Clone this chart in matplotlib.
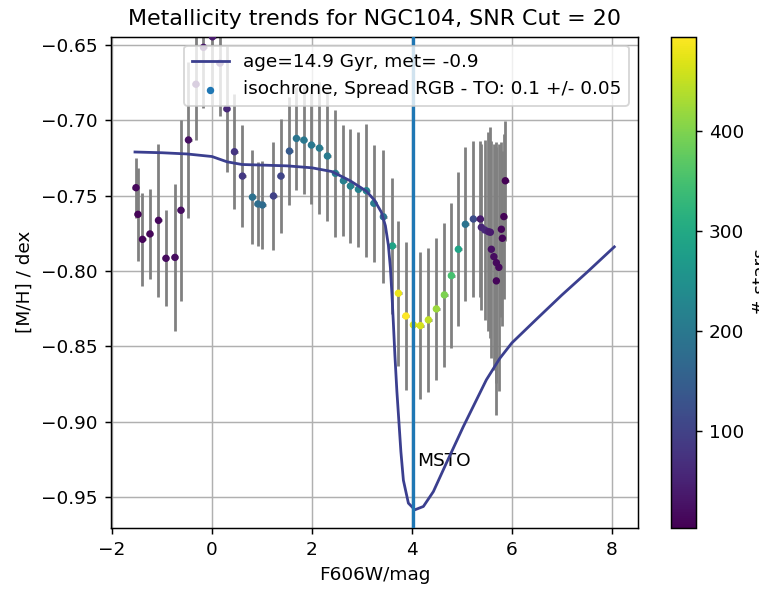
import matplotlib
matplotlib.use("Agg")
import matplotlib.pyplot as plt

# Binned metallicity along the CMD (magnitude bins)
mag = [-1.52, -1.48, -1.39, -1.24, -1.07, -0.92, -0.74, -0.62, -0.47, -0.32,
       -0.17, 0.01, 0.16, 0.30, 0.45, 0.61, 0.81, 0.92, 1.01, 1.23,
       1.38, 1.55, 1.69, 1.84, 1.99, 2.15, 2.31, 2.47, 2.63, 2.77,
       2.93, 3.09, 3.24, 3.43, 3.61, 3.73, 3.88, 4.03, 4.17, 4.33,
       4.49, 4.65, 4.79, 4.93, 5.07, 5.23,
       5.37, 5.39, 5.46, 5.53, 5.57, 5.59, 5.64, 5.69, 5.74, 5.69,
       5.79, 5.81, 5.84, 5.87]
feh = [-0.7447, -0.7624, -0.7790, -0.7754, -0.7664, -0.7916, -0.7910, -0.7597, -0.7130, -0.6760,
       -0.6515, -0.6445, -0.6620, -0.6923, -0.7208, -0.7370, -0.7510, -0.7555, -0.7562, -0.7502,
       -0.7370, -0.7204, -0.7120, -0.7131, -0.7164, -0.7184, -0.7237, -0.7352, -0.7401, -0.7436,
       -0.7458, -0.7467, -0.7551, -0.7640, -0.7834, -0.8148, -0.8299, -0.8358, -0.8363, -0.8325,
       -0.8252, -0.8159, -0.8031, -0.7856, -0.7690, -0.7655,
       -0.7655, -0.7710, -0.7728, -0.7739, -0.7743, -0.7856, -0.7905, -0.7945, -0.7976, -0.8066,
       -0.7723, -0.7783, -0.7639, -0.7401]
feh_err = [0.020, 0.031, 0.031, 0.030, 0.051, 0.032, 0.049, 0.060, 0.052, 0.037,
           0.040, 0.045, 0.035, 0.042, 0.038, 0.034, 0.031, 0.028, 0.029, 0.036,
           0.038, 0.036, 0.034, 0.036, 0.039, 0.044, 0.043, 0.042, 0.037, 0.038,
           0.038, 0.044, 0.039, 0.044, 0.045, 0.048, 0.049, 0.050, 0.049, 0.048,
           0.047, 0.048, 0.048, 0.051, 0.051, 0.052,
           0.052, 0.055, 0.060, 0.066, 0.070, 0.072, 0.075, 0.080, 0.082, 0.089,
           0.058, 0.058, 0.055, 0.040]
n_stars = [15, 8, 10, 12, 15, 18, 20, 22, 25, 30,
           35, 40, 45, 60, 80, 85, 185, 180, 175, 100,
           105, 140, 195, 200, 200, 205, 205, 210, 215, 220,
           220, 225, 205, 190, 290, 480, 494, 470, 462, 447,
           420, 398, 350, 290, 190, 120,
           40, 55, 60, 45, 40, 25, 20, 15, 15, 10,
           10, 10, 6, 4]
mag_halfwidth = 0.07

# Isochrone track
iso_mag = [-1.54, -1.0, -0.5, 0.0, 0.3, 0.6, 1.0, 1.5, 2.0, 2.4,
           2.76, 3.09, 3.25, 3.39, 3.47, 3.53, 3.57, 3.60, 3.63, 3.66,
           3.70, 3.74, 3.78, 3.83, 3.93, 4.06, 4.23, 4.43, 4.69, 5.03,
           5.49, 5.76, 6.0, 6.5, 7.0, 7.5, 8.05]
iso_feh = [-0.7210, -0.7215, -0.7223, -0.7240, -0.7275, -0.7293, -0.7297, -0.7302, -0.7315, -0.7340,
           -0.7400, -0.7470, -0.7530, -0.7610, -0.7700, -0.7830, -0.7980, -0.8150, -0.8350, -0.8560,
           -0.8800, -0.9000, -0.9200, -0.9390, -0.9542, -0.9586, -0.9564, -0.9465, -0.9276, -0.9033,
           -0.8723, -0.8580, -0.8478, -0.8318, -0.8160, -0.8010, -0.7840]

msto_mag = 4.03

W, H, DPI = 759, 589, 133
fig = plt.figure(figsize=(W / DPI, H / DPI), dpi=DPI)
ax = fig.add_axes([110.5 / W, 61.3 / H, 527.8 / W, 491.2 / H])
cax = fig.add_axes([670.7 / W, 61.3 / H, 25.3 / W, 491.2 / H])

ax.grid(True)
ax.errorbar(mag, feh, yerr=feh_err, xerr=mag_halfwidth, fmt='none',
            ecolor='grey', elinewidth=1.5, zorder=2)
sc = ax.scatter(mag, feh, c=n_stars, cmap='viridis', s=9, zorder=3)
iso_line, = ax.plot(iso_mag, iso_feh, color='#3b3f8f', lw=1.5, zorder=4,
                    label='age=14.9 Gyr, met= -0.9')
ax.axvline(msto_mag, color='C0', lw=1.8, zorder=5)
ax.text(4.1, -0.926, 'MSTO', va='center', ha='left')

proxy = ax.scatter([], [], s=9, color='C0',
                   label='isochrone, Spread RGB - TO: 0.1 +/- 0.05')
ax.legend(handles=[iso_line, proxy], loc='upper right')

ax.set_xlim(-2.03, 8.53)
ax.set_ylim(-0.9705, -0.6443)
ax.set_xlabel('F606W/mag')
ax.set_ylabel('[M/H] / dex')
ax.set_title('Metallicity trends for NGC104, SNR Cut = 20')

cb = fig.colorbar(sc, cax=cax)
cb.set_label('# stars')

fig.savefig('out.png', dpi=DPI)
